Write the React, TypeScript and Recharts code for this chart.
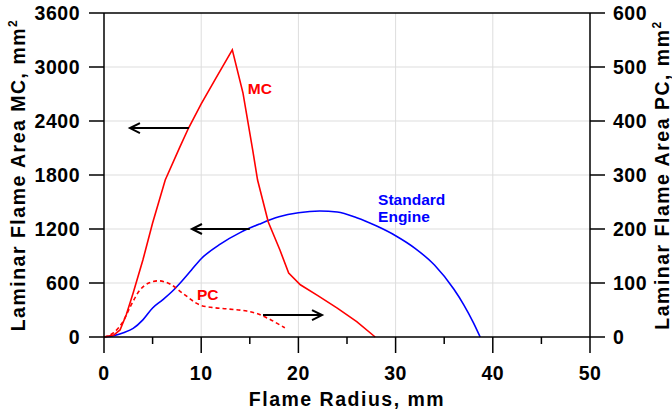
import React from 'react';
import {
  LineChart, Line, XAxis, YAxis, ReferenceLine, ReferenceDot
} from 'recharts';

// MC (left axis)
const mcRadius = [0, 1, 1.65, 2.3, 3.0, 4.0, 5.0, 6.3, 7.8, 8.7, 10.0, 11.5, 13.2, 14.3, 15.3, 15.8, 16.9, 18.1, 19.0, 20.2, 22, 24, 26, 27.9];
const mcArea = [0, 22, 78, 250, 489, 855, 1266, 1744, 2110, 2322, 2590, 2874, 3190, 2710, 2077, 1744, 1278, 966, 711, 580, 460, 320, 170, 0];

// Standard engine (left axis)
const seRadius = [0, 1, 2, 3, 4, 5, 6, 7, 8, 9, 10, 12, 14, 16, 18, 20, 22.2, 24, 26, 28, 30, 32, 34, 36, 37, 38, 38.7];
const seArea = [0, 15, 48, 95, 190, 322, 410, 505, 620, 745, 870, 1035, 1160, 1255, 1335, 1380, 1400, 1388, 1325, 1235, 1125, 985, 800, 530, 360, 160, 0];

// PC (right axis)
const pcRadius = [0, 1, 2, 2.7, 3.7, 4.6, 5.6, 6.8, 8.1, 9.9, 11, 12.7, 14.7, 15.8, 16.8, 18.6];
const pcArea = [0, 8, 30, 56, 87, 100, 104, 98, 81, 59, 55, 52, 48, 43, 35, 17];

const xTicks = [0, 5, 10, 15, 20, 25, 30, 35, 40, 45, 50];
const leftTicks = [0, 600, 1200, 1800, 2400, 3000, 3600];
const rightTicks = [0, 100, 200, 300, 400, 500, 600];
const gridX = [10, 20, 30, 40];
const gridY = [600, 1200, 1800, 2400, 3000];

// arrows: [fromX, toX, y] on left axis
const arrows = [
  [8.74, 2.67, 2322],
  [15.0, 9.05, 1200],
  [16.36, 22.43, 244],
];

const mcData = mcRadius.map((x, i) => ({ x, y: mcArea[i] }));
const seData = seRadius.map((x, i) => ({ x, y: seArea[i] }));
const pcData = pcRadius.map((x, i) => ({ x, y: pcArea[i] }));

const FONT = '"Liberation Sans", Arial, sans-serif';
const tickStyle = { fill: '#000', fontSize: 19.5, fontWeight: 'bold', fontFamily: FONT, letterSpacing: 0.5 };

const XTick = (props: any) => {
  const { x, y, payload } = props;
  const major = payload.value % 10 === 0;
  return (
    <g>
      <line x1={x} x2={x} y1={y} y2={y + (major ? 16 : 7)} stroke="#000" strokeWidth={1.5} />
      {major && (
        <text x={x} y={y + 43} textAnchor="middle" style={tickStyle}>{payload.value}</text>
      )}
    </g>
  );
};

const Arrow = (props: any) => {
  const { x1, y1, x2, y2 } = props;
  const dir = x2 > x1 ? 1 : -1;
  return (
    <g>
      <line x1={x1} y1={y1} x2={x2} y2={y2} stroke="#000" strokeWidth={2} />
      <polyline
        points={`${x2 - dir * 10},${y2 - 5} ${x2},${y2} ${x2 - dir * 10},${y2 + 5}`}
        fill="none" stroke="#000" strokeWidth={2}
      />
    </g>
  );
};

const titleStyle = { fill: '#000', fontSize: 19.5, fontWeight: 'bold', fontFamily: FONT, letterSpacing: 1.5 };

const LeftTitle = (props: any) => {
  const vb = props.viewBox;
  const cx = vb.x + 25;
  const cy = vb.y + vb.height / 2;
  return (
    <text x={cx} y={cy} transform={`rotate(-90, ${cx}, ${cy})`} textAnchor="middle" style={titleStyle}>
      Laminar Flame Area MC, mm<tspan dy={-8} fontSize={12}>2</tspan>
    </text>
  );
};

const RightTitle = (props: any) => {
  const vb = props.viewBox;
  const cx = vb.x + 79;
  const cy = vb.y + vb.height / 2;
  return (
    <text x={cx} y={cy} transform={`rotate(-90, ${cx}, ${cy})`} textAnchor="middle" style={titleStyle}>
      Laminar Flame Area PC, mm<tspan dy={-8} fontSize={12}>2</tspan>
    </text>
  );
};

const BottomTitle = (props: any) => {
  const vb = props.viewBox;
  return (
    <text x={vb.x + vb.width / 2} y={vb.y + 69} textAnchor="middle" style={titleStyle}>
      Flame Radius, mm
    </text>
  );
};

const labelText = (lines: string[], color: string) => (props: any) => (
  <text x={props.cx} y={props.cy} fill={color} style={{ fontSize: 15.5, fontWeight: 'bold', fontFamily: FONT }}>
    {lines.map((l, i) => (
      <tspan key={l} x={props.cx} dy={i === 0 ? 0 : 17}>{l}</tspan>
    ))}
  </text>
);

export default function App() {
  return (
    <div style={{ position: 'absolute', left: 0, top: 0, background: '#fff' }}>
      <LineChart width={672} height={412} margin={{ top: 13, right: 0, bottom: 0, left: 0 }}>
        <XAxis
          type="number" dataKey="x" domain={[0, 50]} ticks={xTicks} interval={0}
          tickSize={0} tickMargin={0} tickLine={false} tick={<XTick />} height={75}
          axisLine={{ stroke: '#000', strokeWidth: 1.5 }} label={BottomTitle}
        />
        <YAxis
          yAxisId="left" type="number" domain={[0, 3600]} ticks={leftTicks} interval={0} width={104}
          tickSize={15} tickMargin={9} tick={tickStyle}
          tickLine={{ stroke: '#000', strokeWidth: 1.5 }} axisLine={{ stroke: '#000', strokeWidth: 1.5 }}
          label={LeftTitle}
        />
        <YAxis
          yAxisId="right" orientation="right" type="number" domain={[0, 600]} ticks={rightTicks} interval={0} width={82}
          tickSize={15} tickMargin={8} tick={tickStyle}
          tickLine={{ stroke: '#000', strokeWidth: 1.5 }} axisLine={{ stroke: '#000', strokeWidth: 1.5 }}
          label={RightTitle}
        />
        {gridX.map((v) => (
          <ReferenceLine key={'gx' + v} yAxisId="left" x={v} stroke="#dddddd" strokeWidth={1} />
        ))}
        {gridY.map((v) => (
          <ReferenceLine key={'gy' + v} yAxisId="left" y={v} stroke="#dddddd" strokeWidth={1} />
        ))}
        <ReferenceLine yAxisId="left" y={3600} stroke="#000" strokeWidth={1.5} />
        <Line data={seData} yAxisId="left" dataKey="y" type="monotone" stroke="#0000ff" strokeWidth={1.6} dot={false} isAnimationActive={false} />
        <Line data={mcData} yAxisId="left" dataKey="y" type="linear" stroke="#ff0000" strokeWidth={1.6} dot={false} isAnimationActive={false} />
        <Line data={pcData} yAxisId="right" dataKey="y" type="monotone" stroke="#ff0000" strokeWidth={1.6} strokeDasharray="4 3" dot={false} isAnimationActive={false} />
        {arrows.map(([x1, x2, y], i) => (
          <ReferenceLine key={'ar' + i} yAxisId="left" segment={[{ x: x1, y }, { x: x2, y }]} shape={Arrow} />
        ))}
        <ReferenceDot yAxisId="left" x={14.8} y={2700} r={0} shape={labelText(['MC'], '#ff0000')} />
        <ReferenceDot yAxisId="left" x={9.57} y={411} r={0} shape={labelText(['PC'], '#ff0000')} />
        <ReferenceDot yAxisId="left" x={28.2} y={1467} r={0} shape={labelText(['Standard', 'Engine'], '#0000ff')} />
      </LineChart>
    </div>
  );
}
